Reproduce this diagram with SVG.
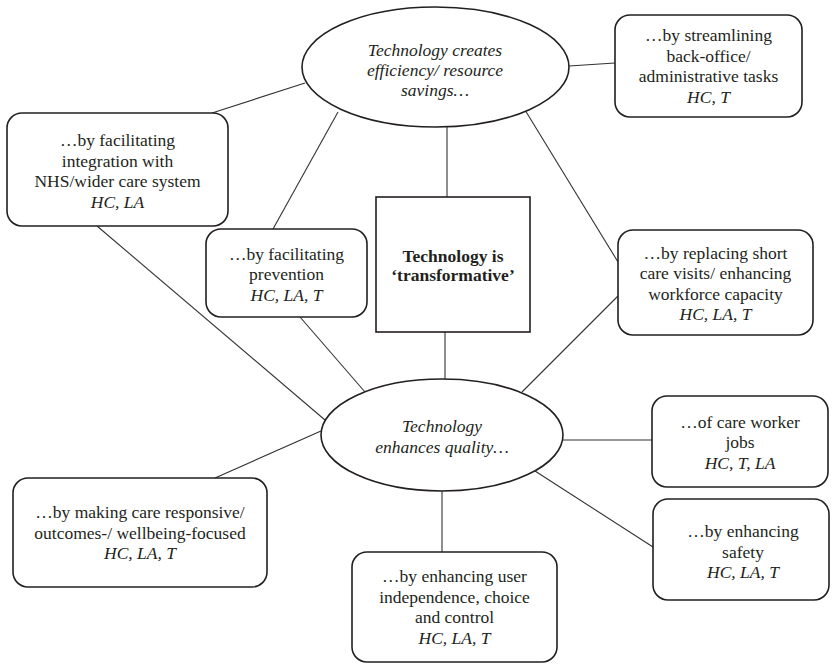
<svg xmlns="http://www.w3.org/2000/svg" width="832" height="664" viewBox="0 0 832 664" font-family="'Liberation Serif','Times New Roman',serif">
<style>
text{font-family:"Liberation Serif","Times New Roman",serif;font-size:17.5px;fill:#231f20;text-anchor:middle}
.i{font-style:italic}
.b{font-weight:bold}
.box{fill:#fff;stroke:#231f20;stroke-width:1.6}
.ell{fill:#fff;stroke:#231f20;stroke-width:1.6}
.c{stroke:#333;stroke-width:1.1;fill:none}
</style>
<rect width="832" height="664" fill="#fff"/>
<g id="connectors">
<line class="c" x1="569" y1="66" x2="615" y2="63"/>
<line class="c" x1="212" y1="113" x2="305" y2="83"/>
<line class="c" x1="273" y1="229" x2="338" y2="112"/>
<line class="c" x1="447" y1="127" x2="447" y2="197"/>
<line class="c" x1="525" y1="110" x2="618" y2="262"/>
<line class="c" x1="97" y1="226" x2="325" y2="420"/>
<line class="c" x1="300" y1="317" x2="365" y2="392"/>
<line class="c" x1="445" y1="332" x2="445" y2="379"/>
<line class="c" x1="618" y1="296" x2="522" y2="392"/>
<line class="c" x1="563" y1="440" x2="652" y2="440"/>
<line class="c" x1="535" y1="471" x2="653" y2="547"/>
<line class="c" x1="215" y1="478" x2="321" y2="431"/>
<line class="c" x1="442" y1="491" x2="442" y2="552"/>
</g>
<g id="efficiency">
<ellipse class="ell" cx="435.5" cy="67" rx="133.5" ry="60"/>
<text class="i" x="435" y="56">Technology creates</text>
<text class="i" x="435" y="76">efficiency/ resource</text>
<text class="i" x="435" y="96">savings…</text>
</g>
<g id="streamlining">
<rect class="box" x="615" y="15" width="187" height="102" rx="15"/>
<text x="708.5" y="41">…by streamlining</text>
<text x="708.5" y="61.5">back-office/</text>
<text x="708.5" y="82">administrative tasks</text>
<text class="i" x="708.5" y="102.5">HC, T</text>
</g>
<g id="integration">
<rect class="box" x="7" y="113" width="221" height="113" rx="15"/>
<text x="117.5" y="146">…by facilitating</text>
<text x="117.5" y="166.5">integration with</text>
<text x="117.5" y="187">NHS/wider care system</text>
<text class="i" x="117.5" y="207.5">HC, LA</text>
</g>
<g id="prevention">
<rect class="box" x="206" y="229" width="161" height="88" rx="15"/>
<text x="286.5" y="259.5">…by facilitating</text>
<text x="286.5" y="280">prevention</text>
<text class="i" x="286.5" y="300.5">HC, LA, T</text>
</g>
<g id="transformative">
<rect class="box" x="376" y="197" width="154" height="135" rx="0"/>
<text class="b" x="453" y="262">Technology is</text>
<text class="b" x="453" y="281">‘transformative’</text>
</g>
<g id="replacing">
<rect class="box" x="618" y="230" width="195" height="105" rx="15"/>
<text x="715.5" y="258.5">…by replacing short</text>
<text x="715.5" y="279">care visits/ enhancing</text>
<text x="715.5" y="299.5">workforce capacity</text>
<text class="i" x="715.5" y="320">HC, LA, T</text>
</g>
<g id="quality">
<ellipse class="ell" cx="442" cy="435" rx="121" ry="56"/>
<text class="i" x="442" y="432">Technology</text>
<text class="i" x="442" y="453">enhances quality…</text>
</g>
<g id="careworker">
<rect class="box" x="652" y="396" width="176" height="91" rx="15"/>
<text x="740" y="427.5">…of care worker</text>
<text x="740" y="448">jobs</text>
<text class="i" x="740" y="468.5">HC, T, LA</text>
</g>
<g id="safety">
<rect class="box" x="653" y="499" width="176" height="101" rx="15"/>
<text x="743" y="537">…by enhancing</text>
<text x="743" y="557.5">safety</text>
<text class="i" x="743" y="578">HC, LA, T</text>
</g>
<g id="responsive">
<rect class="box" x="13" y="478" width="254" height="109" rx="15"/>
<text x="140" y="518">…by making care responsive/</text>
<text x="140" y="538.5">outcomes-/ wellbeing-focused</text>
<text class="i" x="140" y="559">HC, LA, T</text>
</g>
<g id="independence">
<rect class="box" x="352" y="552" width="205" height="110" rx="15"/>
<text x="454.5" y="582">…by enhancing user</text>
<text x="454.5" y="602.5">independence, choice</text>
<text x="454.5" y="623">and control</text>
<text class="i" x="454.5" y="643.5">HC, LA, T</text>
</g>
</svg>
